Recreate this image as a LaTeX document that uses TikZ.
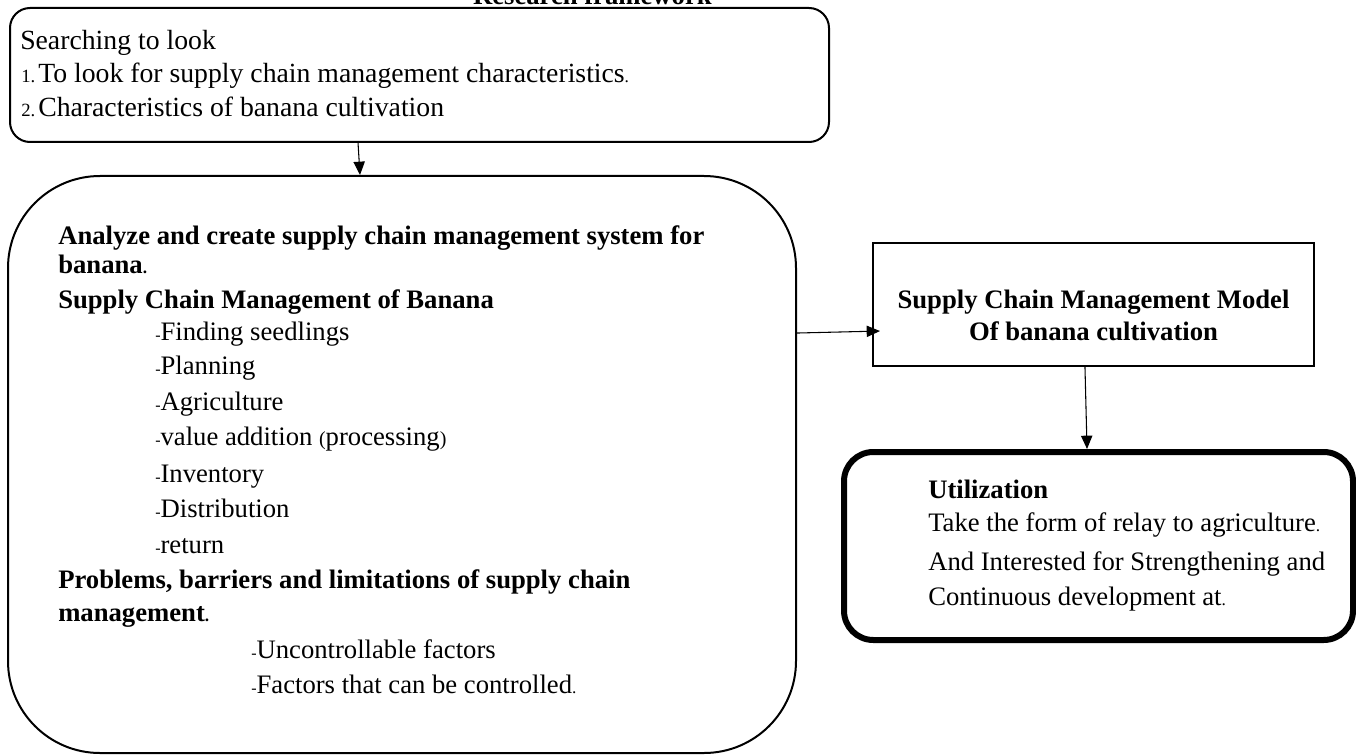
\documentclass[tikz,border=0pt]{standalone}
\usepackage{fontspec}
\setmainfont{Liberation Serif}
\usetikzlibrary{arrows.meta}
\newcommand{\smdash}{{\fontsize{12}{12}\selectfont -}}
\newcommand{\smdot}{{\fontsize{13}{13}\selectfont .}}
\newcommand{\smpar}[1]{{\fontsize{15}{15}\selectfont #1}}
\tikzset{
  box/.style={draw=black, line width=1.5pt, inner sep=0pt},
  txt/.style={inner sep=0pt, anchor=base west, font=\fontsize{20}{23}\selectfont},
  btxt/.style={txt, font=\fontsize{20}{23}\selectfont\bfseries},
  ttxt/.style={inner sep=0pt, anchor=base west, font=\fontsize{20.8}{23}\selectfont},
  num/.style={inner sep=0pt, anchor=base west, font=\fontsize{14}{20}\selectfont},
  arr/.style={draw=black, line width=0.8pt, -{Triangle[length=10pt,width=8.5pt]}}
}
\begin{document}
\begin{tikzpicture}[x=0.75pt,y=-0.75pt]
\useasboundingbox (0,0) rectangle (1356,756);
% title (cut off at top)
\node[btxt, anchor=base east] (title) at (712,5) {Research framework};
% boxes
\node[box, rounded corners=15pt, minimum width=614.25pt, minimum height=100.5pt] (top) at (419.5,75) {};
\node[box, rounded corners=69pt, minimum width=591pt, minimum height=432.75pt] (big) at (402,464.5) {};
\node[box, minimum width=330.75pt, minimum height=92.25pt] (model) at (1093.5,304.5) {};
\node[box, line width=4.5pt, rounded corners=22pt, minimum width=381.75pt, minimum height=141pt] (util) at (1098.5,546) {};
% top box text
\node[ttxt] (t1) at (20,50) {Searching to look};
\node[num] (n1) at (21,83) {1.};
\node[ttxt] (t2) at (38,83) {To look for supply chain management characteristics\smdot};
\node[num] (n2) at (21,117) {2.};
\node[ttxt] (t3) at (38,117) {Characteristics of banana cultivation};
% big box text
\node[btxt] (b1) at (58,244) {Analyze and create supply chain management system for};
\node[btxt] (b2) at (58,273) {banana\smdot};
\node[btxt] (b3) at (58,308) {Supply Chain Management of Banana};
\node[txt] (b4) at (155,340) {\smdash Finding seedlings};
\node[txt] (b5) at (155,374) {\smdash Planning};
\node[txt] (b6) at (155,410) {\smdash Agriculture};
\node[txt] (b7) at (155,445) {\smdash value addition \smpar{(}processing\smpar{)}};
\node[txt] (b8) at (155,482) {\smdash Inventory};
\node[txt] (b9) at (155,517) {\smdash Distribution};
\node[txt] (b10) at (155,553) {\smdash return};
\node[btxt] (b11) at (58,588) {Problems, barriers and limitations of supply chain};
\node[btxt] (b12) at (58,621) {management\smdot};
\node[txt] (b13) at (251,658) {\smdash Uncontrollable factors};
\node[txt] (b14) at (251,693) {\smdash Factors that can be controlled\smdot};
% model box text
\node[btxt, anchor=base] (m1) at (1093.5,308) {Supply Chain Management Model};
\node[btxt, anchor=base] (m2) at (1093.5,340) {Of banana cultivation};
% utilization text
\node[btxt] (u1) at (928,498) {Utilization};
\node[txt] (u2) at (928,531) {Take the form of relay to agriculture\smdot};
\node[txt] (u3) at (928,570) {And Interested for Strengthening and};
\node[txt] (u4) at (928,605) {Continuous development at\smdot};
% connectors
\draw[arr] ([xshift=-46.1pt]top.south) -- ([xshift=-31.5pt]big.north);
\draw[arr] ([yshift=98.6pt]big.east) -- ([yshift=-19.9pt,xshift=6pt]model.west);
\draw[arr] ([xshift=-6.4pt]model.south) -- ([xshift=-8.6pt]util.north);
\end{tikzpicture}
\end{document}
